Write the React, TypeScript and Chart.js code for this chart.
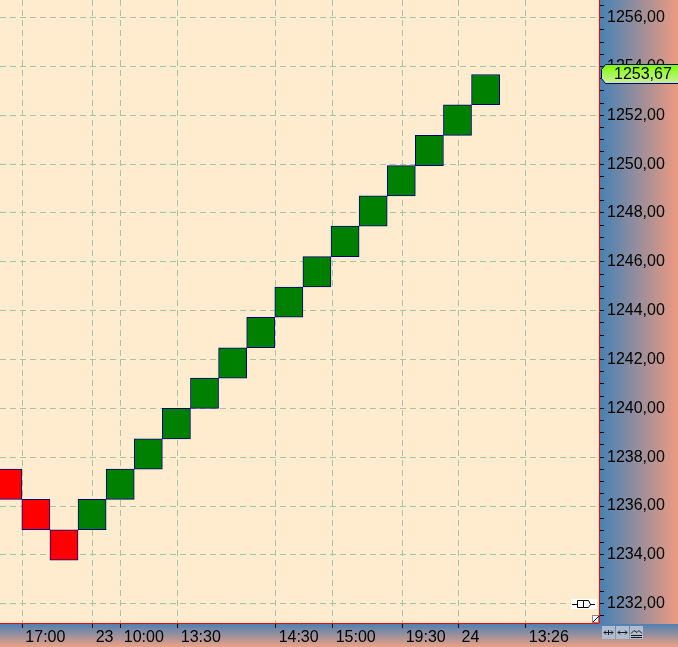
import React, { useEffect, useRef } from 'react';
import { Chart, registerables } from 'chart.js';

Chart.register(...registerables);

// Renko boxes (low / high of each brick), left to right
const boxLows = [
  1236.27, 1235.03, 1233.78,
  1235.03, 1236.27, 1237.51, 1238.75, 1240.0, 1241.24, 1242.48, 1243.73,
  1244.97, 1246.21, 1247.46, 1248.7, 1249.94, 1251.18, 1252.43,
];
const boxHighs = [
  1237.51, 1236.27, 1235.03,
  1236.27, 1237.51, 1238.75, 1240.0, 1241.24, 1242.48, 1243.73, 1244.97,
  1246.21, 1247.46, 1248.7, 1249.94, 1251.18, 1252.43, 1253.67,
];
const boxDirections = [
  'down', 'down', 'down',
  'up', 'up', 'up', 'up', 'up', 'up', 'up', 'up',
  'up', 'up', 'up', 'up', 'up', 'up', 'up',
];

// Time axis tick positions (in brick units) and labels
const timeTickPositions = [0.52, 3.02, 4.02, 6.05, 9.53, 11.56, 14.05, 16.04, 18.43];
const timeTickLabels = ['17:00', '23', '10:00', '13:30', '14:30', '15:00', '19:30', '24', '13:26'];

// Price axis
const priceMin = 1231.17;
const priceMax = 1256.72;
const priceLabelStep = 2;
const priceMinorStep = 0.5;
const lastPrice = 1253.67;
const lastPriceLabel = '1253,67';

const xMin = -0.276;
const xMax = 21.07;

const FONT = '"Liberation Sans", Arial, sans-serif';
const GRID = '#a9c3a9';

function isMajor(v: number) {
  return Math.abs(v / priceLabelStep - Math.round(v / priceLabelStep)) < 1e-6;
}

const panelsPlugin = {
  id: 'panels',
  beforeDraw(chart: any) {
    const { ctx, chartArea, width, height } = chart;
    const { left, top, right, bottom } = chartArea;
    ctx.save();
    const gb = ctx.createLinearGradient(0, bottom, 0, height);
    gb.addColorStop(0, '#4f80b2');
    gb.addColorStop(1, '#eba185');
    ctx.fillStyle = gb;
    ctx.fillRect(0, bottom, width, height - bottom);
    const gr = ctx.createLinearGradient(right, 0, width, 0);
    gr.addColorStop(0, '#4682b4');
    gr.addColorStop(1, '#ee9a80');
    ctx.fillStyle = gr;
    ctx.fillRect(right, 0, width - right, bottom);
    ctx.fillStyle = '#ffebcd';
    ctx.fillRect(left, top, right - left, bottom - top);
    ctx.restore();
  },
  afterDraw(chart: any) {
    const { ctx, chartArea, width } = chart;
    const { right, bottom } = chartArea;
    const yScale = chart.scales.y;
    ctx.save();
    ctx.strokeStyle = '#ff0000';
    ctx.lineWidth = 1;
    ctx.beginPath();
    ctx.moveTo(right - 0.5, 0);
    ctx.lineTo(right - 0.5, bottom - 0.5);
    ctx.lineTo(0, bottom - 0.5);
    ctx.stroke();

    // last price marker
    const yp = Math.round(yScale.getPixelForValue(lastPrice));
    const t = yp - 9.5;
    const b = yp + 9.5;
    const l = right + 1.5;
    const g = ctx.createLinearGradient(0, t, 0, b);
    g.addColorStop(0, '#7cff00');
    g.addColorStop(1, '#cdeea0');
    ctx.beginPath();
    ctx.moveTo(l + 4, t);
    ctx.lineTo(width + 1, t);
    ctx.lineTo(width + 1, b);
    ctx.lineTo(l + 4, b);
    ctx.lineTo(l, b - 5);
    ctx.lineTo(l, t + 5);
    ctx.closePath();
    ctx.fillStyle = g;
    ctx.fill();
    ctx.strokeStyle = '#000080';
    ctx.stroke();
    ctx.fillStyle = '#000';
    ctx.font = `16px ${FONT}`;
    ctx.textBaseline = 'middle';
    ctx.textAlign = 'left';
    ctx.fillText(lastPriceLabel, right + 14, yp + 1);

    // small plug icon
    ctx.fillStyle = '#ffffff';
    ctx.fillRect(571, 599, 26, 10);
    ctx.strokeStyle = '#000';
    ctx.beginPath();
    ctx.moveTo(572, 604.5); ctx.lineTo(577, 604.5);
    ctx.moveTo(590, 604.5); ctx.lineTo(595, 604.5);
    ctx.moveTo(577.5, 600.5); ctx.lineTo(583.5, 600.5); ctx.lineTo(583.5, 607.5); ctx.lineTo(577.5, 607.5); ctx.closePath();
    ctx.moveTo(583.5, 600.5); ctx.lineTo(588.5, 600.5); ctx.lineTo(590.5, 604.5); ctx.lineTo(588.5, 607.5); ctx.lineTo(583.5, 607.5);
    ctx.stroke();
    // resize corner
    ctx.fillStyle = '#ffffff';
    ctx.fillRect(592, 615, 7, 8);
    ctx.strokeStyle = '#888';
    ctx.strokeRect(592.5, 615.5, 6, 7);
    ctx.strokeStyle = '#000';
    ctx.beginPath();
    ctx.moveTo(593, 622); ctx.lineTo(599, 616);
    ctx.stroke();

    // corner buttons
    const bx = [602, 616, 630];
    bx.forEach((x, i) => {
      ctx.fillStyle = '#aebdd2';
      ctx.fillRect(x, 626, 13, 13);
      ctx.strokeStyle = '#1a1a1a';
      ctx.beginPath();
      if (i < 2) {
        ctx.moveTo(x + 2, 632.5); ctx.lineTo(x + 11, 632.5);
        ctx.moveTo(x + 4, 630.5); ctx.lineTo(x + 2, 632.5); ctx.lineTo(x + 4, 634.5);
        ctx.moveTo(x + 9, 630.5); ctx.lineTo(x + 11, 632.5); ctx.lineTo(x + 9, 634.5);
        if (i === 0) { ctx.moveTo(x + 6.5, 630); ctx.lineTo(x + 6.5, 635); }
      } else {
        ctx.moveTo(x + 1, 633.5); ctx.lineTo(x + 4, 630.5); ctx.lineTo(x + 7, 632.5); ctx.lineTo(x + 9, 630.5); ctx.lineTo(x + 12, 633.5);
        ctx.moveTo(x + 1, 635.5); ctx.lineTo(x + 12, 635.5);
        ctx.moveTo(x + 1, 637.5); ctx.lineTo(x + 12, 637.5);
      }
      ctx.stroke();
    });
    ctx.restore();
  },
};

export default function App() {
  const ref = useRef<HTMLCanvasElement | null>(null);

  useEffect(() => {
    document.body.style.margin = '0';
    const canvas = ref.current;
    if (!canvas) return;

    const data = boxLows.map((lo, i) => ({ x: i, y: [lo, boxHighs[i]] }));
    const colors = boxDirections.map((d) => (d === 'up' ? '#008000' : '#ff0000'));

    const chart = new Chart(canvas, {
      type: 'bar',
      data: {
        datasets: [
          {
            data: data as any,
            backgroundColor: colors,
            borderColor: '#000080',
            borderWidth: 1,
            borderSkipped: false,
            barPercentage: 1,
            categoryPercentage: 1,
          },
        ],
      },
      options: {
        responsive: false,
        animation: false,
        devicePixelRatio: 1,
        layout: { padding: 0 },
        plugins: {
          legend: { display: false },
          title: { display: false },
          tooltip: { enabled: false },
        },
        scales: {
          x: {
            type: 'linear',
            position: 'bottom',
            min: xMin,
            max: xMax,
            offset: false,
            bounds: 'data',
            grid: {
              offset: false,
              color: GRID,
              lineWidth: 1,
              drawTicks: true,
              tickLength: 4,
              tickColor: '#000',
              tickWidth: 1,
            },
            border: { display: false, dash: [6, 4] },
            afterBuildTicks: (scale: any) => {
              scale.ticks = timeTickPositions.map((v) => ({ value: v }));
            },
            afterFit: (scale: any) => {
              scale.height = 23;
              scale.paddingLeft = 0;
              scale.paddingRight = 0;
              scale.paddingTop = 0;
              scale.paddingBottom = 0;
            },
            ticks: {
              autoSkip: false,
              maxRotation: 0,
              minRotation: 0,
              align: 'start',
              labelOffset: 3,
              padding: 0,
              color: '#000',
              font: { family: FONT, size: 16 },
              callback: (v: any) => {
                const idx = timeTickPositions.findIndex((p) => Math.abs(p - Number(v)) < 1e-6);
                return idx >= 0 ? timeTickLabels[idx] : '';
              },
            },
          },
          y: {
            type: 'linear',
            position: 'right',
            min: priceMin,
            max: priceMax,
            bounds: 'data',
            grid: {
              color: (ctx: any) => (ctx.tick && isMajor(ctx.tick.value) ? GRID : 'rgba(0,0,0,0)'),
              lineWidth: 1,
              drawTicks: true,
              tickLength: 4,
              tickColor: '#000',
              tickWidth: 1,
            },
            border: { display: false, dash: [6, 4] },
            afterBuildTicks: (scale: any) => {
              const ticks: any[] = [];
              const start = Math.ceil(priceMin / priceMinorStep) * priceMinorStep;
              for (let v = start; v <= priceMax + 1e-9; v += priceMinorStep) {
                ticks.push({ value: Math.round(v * 100) / 100 });
              }
              scale.ticks = ticks;
            },
            afterFit: (scale: any) => {
              scale.width = 78;
              scale.paddingTop = 0;
              scale.paddingBottom = 0;
              scale.paddingLeft = 0;
              scale.paddingRight = 0;
            },
            ticks: {
              autoSkip: false,
              padding: 3,
              color: '#000',
              font: { family: FONT, size: 16 },
              callback: (v: any) => (isMajor(Number(v)) ? Number(v).toFixed(2).replace('.', ',') : ''),
            },
          },
        },
      },
      plugins: [panelsPlugin],
    } as any);

    return () => {
      chart.destroy();
    };
  }, []);

  return <canvas ref={ref} width={678} height={647} style={{ display: 'block' }} />;
}
